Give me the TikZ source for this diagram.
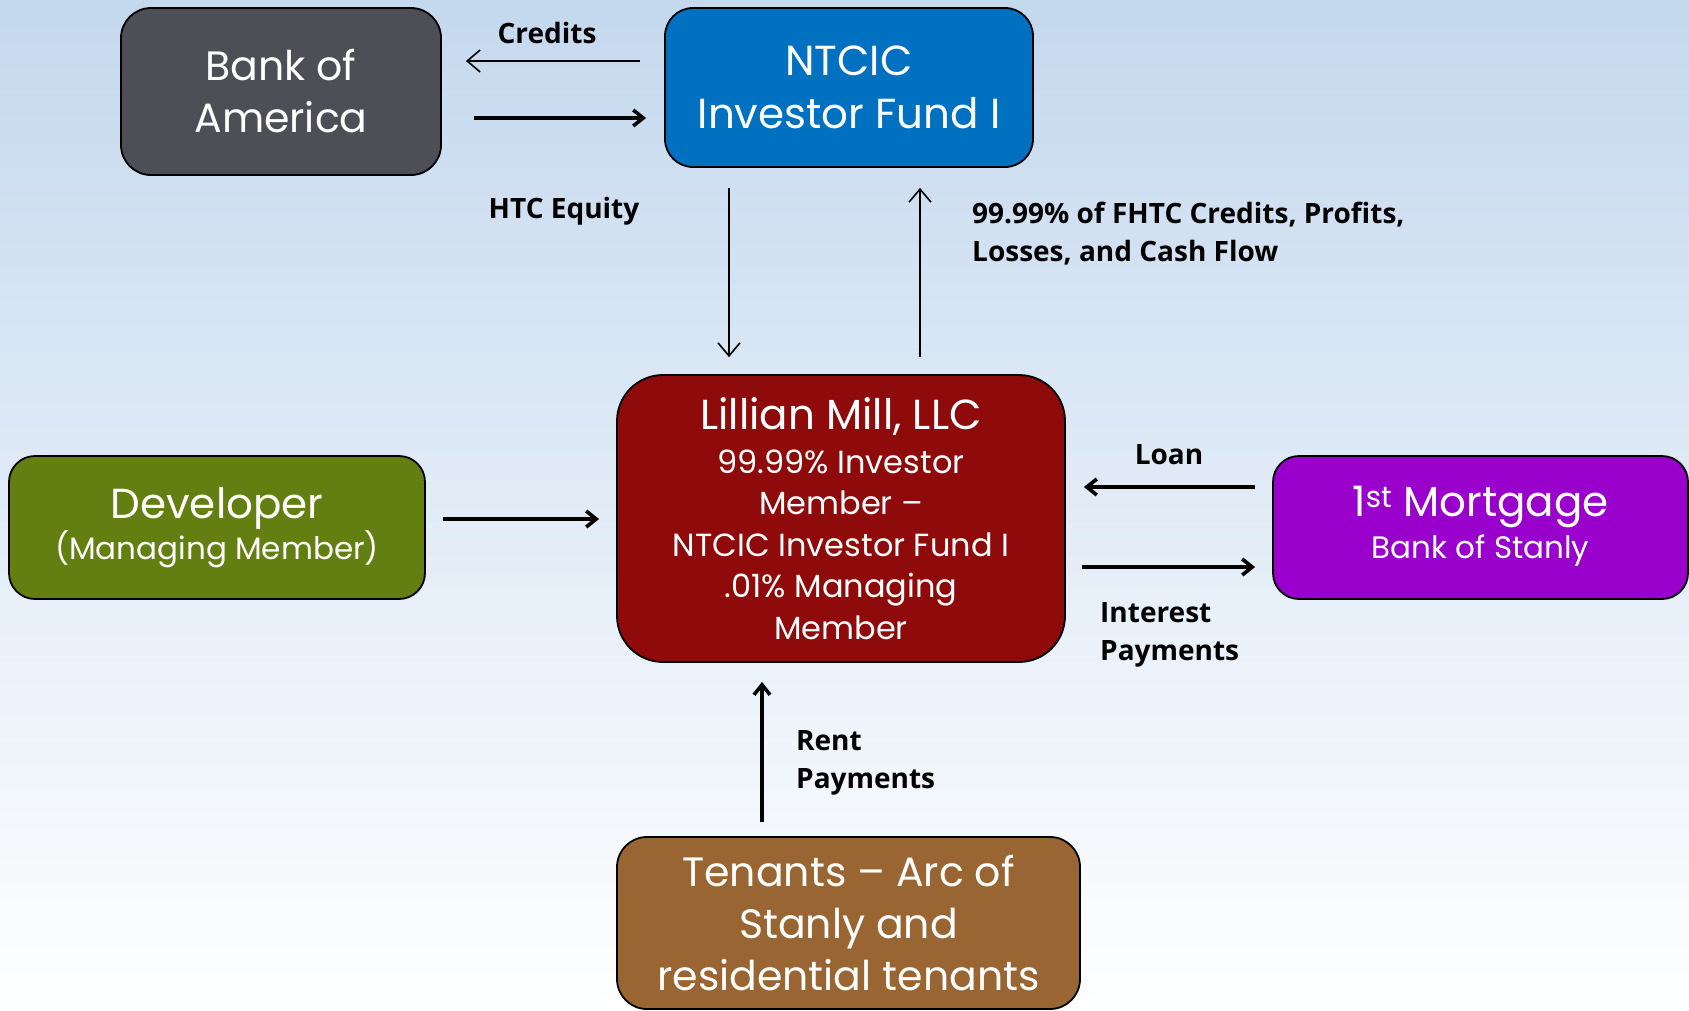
\documentclass[tikz,border=0pt]{standalone}
\usepackage{fontspec}
\setmainfont{Poppins}
\newfontfamily\lblfont{Open Sans}
\usetikzlibrary{arrows.meta, positioning}

\definecolor{bgtop}{HTML}{C4D8EE}
\definecolor{bgmid}{HTML}{DCE8F4}
\definecolor{boagray}{HTML}{4D4E56}
\definecolor{fundblue}{HTML}{0070C0}
\definecolor{millred}{HTML}{8F0B0B}
\definecolor{devgreen}{HTML}{647F11}
\definecolor{mortpurple}{HTML}{9900CC}
\definecolor{tenbrown}{HTML}{996633}

\begin{document}
\begin{tikzpicture}[
      x=1pt, y=-1pt,
      box/.style={draw=black, line width=1.8pt, text=white, align=center, inner sep=0pt},
      lbl/.style={font=\lblfont\bfseries\fontsize{28}{38}\selectfont, align=left, inner sep=0pt},
      thinarr/.style={line width=1.6pt, -{Straight Barb[length=13pt, width=22pt]}},
      thickarr/.style={line width=3.6pt, -{Straight Barb[length=10pt, width=16pt]}}
    ]
      \useasboundingbox (0,0) rectangle (1689,1010);
      \shade[top color=bgtop, middle color=bgmid, bottom color=white] (0,0) rectangle (1689,1010);

      \node[box, fill=boagray, minimum width=320pt, minimum height=167pt, rounded corners=30pt,
            font=\fontsize{41}{52}\selectfont] (boa) at (281,91.5) {Bank of\\America};
      \node[box, fill=fundblue, minimum width=368pt, minimum height=159pt, rounded corners=28pt,
            font=\fontsize{42}{53}\selectfont] (fund) at (849,87.5) {NTCIC\\Investor Fund I};
      \node[box, fill=millred, minimum width=448pt, minimum height=287pt, rounded corners=46pt,
            font=\fontsize{32}{41.5}\selectfont] (mill) at (841,518.5)
            {{\fontsize{42}{48}\selectfont Lillian Mill, LLC}\\[2pt]99.99\% Investor\\Member –\\NTCIC Investor Fund I\\.01\% Managing\\Member};
      \node[box, fill=devgreen, minimum width=416pt, minimum height=143pt, rounded corners=26pt,
            font=\fontsize{31}{41}\selectfont] (dev) at (217,527.5)
            {{\fontsize{42}{48}\selectfont Developer}\\(Managing Member)};
      \node[box, fill=mortpurple, minimum width=415pt, minimum height=143pt, rounded corners=26pt,
            font=\fontsize{31}{42}\selectfont, text depth=10pt] (mort) at (1480.5,527.5)
            {{\fontsize{42}{48}\selectfont 1\textsuperscript{st} Mortgage}\\Bank of Stanly};
      \node[box, fill=tenbrown, minimum width=463pt, minimum height=172pt, rounded corners=30pt,
            font=\fontsize{41}{52}\selectfont] (ten) at (848.5,923)
            {Tenants – Arc of\\Stanly and\\residential tenants};

      \coordinate (cr-a) at ([xshift=-24pt, yshift=26.5pt]fund.west);
      \coordinate (cr-b) at ([xshift=24pt]cr-a -| boa.east);
      \coordinate (eq-a) at ([xshift=32pt, yshift=-30.5pt]fund.west -| boa.east);
      \coordinate (eq-b) at ([xshift=-18pt, yshift=-30.5pt]fund.west);
      \coordinate (dn-a) at ([xshift=-120pt, yshift=-20pt]fund.south);
      \coordinate (dn-b) at ([yshift=17pt]dn-a |- mill.north);
      \coordinate (up-a) at ([xshift=79pt, yshift=17pt]mill.north);
      \coordinate (up-b) at ([yshift=-20pt]up-a |- fund.south);
      \coordinate (dv-a) at ([xshift=17pt, yshift=8.5pt]dev.east);
      \coordinate (dv-b) at ([xshift=-17pt]dv-a -| mill.west);
      \coordinate (ln-a) at ([xshift=-17pt, yshift=40.5pt]mort.west);
      \coordinate (ln-b) at ([xshift=18pt]ln-a -| mill.east);
      \coordinate (ip-a) at ([xshift=16pt, yshift=-39.5pt]mort.west -| mill.east);
      \coordinate (ip-b) at ([xshift=-17pt, yshift=-39.5pt]mort.west);
      \coordinate (rn-a) at ([xshift=-79pt, yshift=14pt]ten.north -| mill.center);
      \coordinate (rn-b) at ([yshift=-19pt]rn-a |- mill.south);

      \draw[thinarr] (cr-a) -- (cr-b);
      \draw[thickarr] (eq-a) -- (eq-b);
      \draw[thinarr] (dn-a) -- (dn-b);
      \draw[thinarr] (up-a) -- (up-b);
      \draw[thickarr] (dv-a) -- (dv-b);
      \draw[thickarr] (ln-a) -- (ln-b);
      \draw[thickarr] (ip-a) -- (ip-b);
      \draw[thickarr] (rn-a) -- (rn-b);

      \node[lbl] (credits) at (547,33) {Credits};
      \node[lbl] (equity) at (564,211) {HTC Equity};
      \node[lbl, anchor=west] (share) at (972,234) {99.99\% of FHTC Credits, Profits,\\Losses, and Cash Flow};
      \node[lbl] (loan) at (1169,455) {Loan};
      \node[lbl, anchor=west] (interest) at (1100,635) {Interest\\Payments};
      \node[lbl, anchor=west] (rent) at (796,763) {Rent\\Payments};
\end{tikzpicture}
\end{document}
